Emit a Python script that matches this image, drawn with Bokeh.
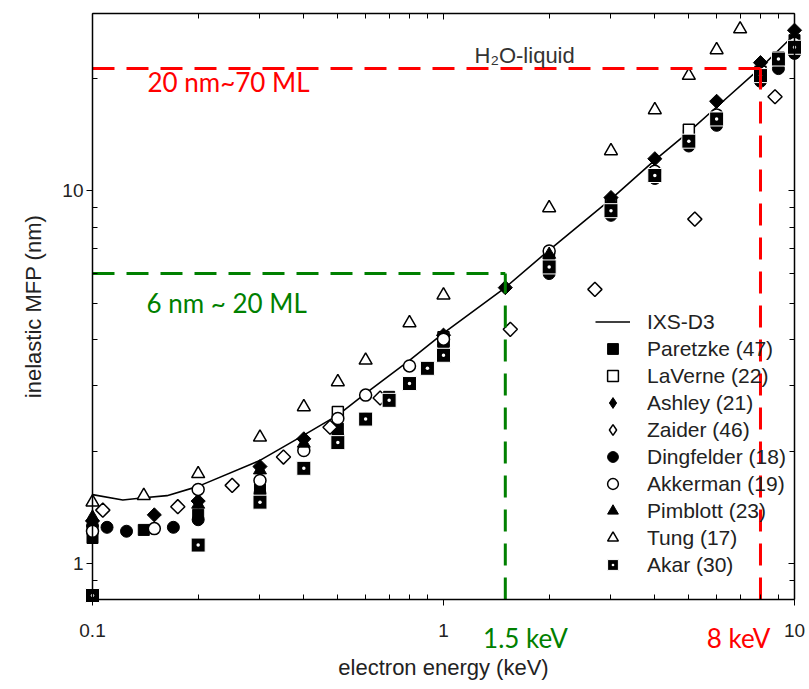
import numpy as np
from bokeh.plotting import figure
from bokeh.models import (Legend, LegendItem, FixedTicker, LogAxis, Label,
                          NumeralTickFormatter)
from bokeh.embed import file_html
from bokeh.resources import INLINE

# ---- IXS-D3 model curve (energy in keV, inelastic MFP in nm) ----
ixs_e = [0.1, 0.122, 0.14, 0.163, 0.2, 0.3, 0.4, 0.5, 0.6, 0.8, 1.0, 1.5, 2.0, 3.0, 4.0, 5.0, 6.0, 8.0, 10.0]
ixs_mfp = [1.53, 1.48, 1.50, 1.52, 1.61, 1.89, 2.21, 2.50, 2.86, 3.51, 4.15, 5.5, 6.94, 9.5, 12.1, 14.4, 16.8, 21.4, 26.3]

# ---- literature data sets ----
paretzke_e = [0.1, 0.14, 0.2, 0.3, 0.5, 0.7, 1.0, 2.0, 5.0, 10.0]
paretzke_mfp = [1.17, 1.23, 1.35, 1.58, 2.30, 2.80, 3.95, 6.6, 14.1, 25.4]

laverne_e = [0.5, 1.0, 3.0, 5.0, 8.0, 9.0]
laverne_mfp = [2.55, 4.05, 9.3, 14.6, 20.9, 22.8]

ashley_e = [0.1, 0.15, 0.2, 0.3, 0.4, 1.0, 1.5, 3.0, 4.0, 6.0, 8.0, 10.0]
ashley_mfp = [1.30, 1.35, 1.47, 1.82, 2.16, 4.1, 5.5, 9.6, 12.2, 17.4, 22.1, 27.0]

zaider_e = [0.107, 0.175, 0.25, 0.35, 0.475, 0.66, 1.55, 2.7, 5.2, 8.8]
zaider_mfp = [1.39, 1.42, 1.62, 1.93, 2.32, 2.78, 4.25, 5.44, 8.4, 17.9]

dingfelder_e = [0.1, 0.11, 0.125, 0.17, 0.2, 0.3, 0.5, 0.6, 0.9, 1.0, 2.0, 3.0, 4.0, 5.0, 6.0, 8.0, 9.0, 10.0]
dingfelder_mfp = [1.26, 1.25, 1.22, 1.25, 1.31, 1.54, 2.20, 2.45, 3.34, 3.85, 6.0, 8.6, 10.8, 13.2, 15.0, 19.7, 21.3, 23.4]

akkerman_e = [0.1, 0.15, 0.2, 0.3, 0.4, 0.5, 0.6, 0.8, 1.0, 2.0, 3.0, 4.0, 5.0, 6.0, 8.0, 10.0]
akkerman_mfp = [1.22, 1.24, 1.58, 1.67, 2.01, 2.45, 2.83, 3.39, 4.0, 6.9, 8.9, 11.3, 13.5, 16.0, 20.5, 24.9]

pimblott_e = [0.1, 0.2, 0.3, 0.4, 2.0, 3.0]
pimblott_mfp = [1.33, 1.44, 1.78, 2.10, 6.75, 9.4]

tung_e = [0.1, 0.14, 0.2, 0.3, 0.4, 0.5, 0.6, 0.8, 1.0, 2.0, 3.0, 4.0, 5.0, 6.0, 7.0]
tung_mfp = [1.46, 1.52, 1.74, 2.18, 2.63, 3.07, 3.51, 4.42, 5.25, 9.0, 12.8, 16.5, 20.4, 23.9, 27.2]

akar_e = [0.1, 0.2, 0.3, 0.4, 0.5, 0.6, 0.7, 0.8, 0.9, 1.0, 2.0, 3.0, 4.0, 5.0, 6.0, 8.0, 9.0, 10.0]
akar_mfp = [0.82, 1.12, 1.46, 1.80, 2.11, 2.44, 2.74, 3.04, 3.34, 3.62, 6.25, 8.85, 11.0, 13.6, 15.6, 20.4, 22.6, 24.3]

# ---- guide lines: photon energy (keV) and the MFP reached there (nm) ----
guide_e = [1.5, 8.0]
guide_mfp = [6.0, 21.3]

# ---- axes ----
x_ticks = [0.1, 1, 10]
x_minor = [0.2, 0.3, 0.4, 0.5, 0.6, 0.7, 0.8, 0.9, 2, 3, 4, 5, 6, 7, 8, 9]
y_ticks = [1, 10]
y_minor = [0.8, 0.9, 2, 3, 4, 5, 6, 7, 8, 9, 20, 30]
X_LO, X_HI = 0.1, 10
Y_LO, Y_HI = 0.8, 30

AXIS_FONT = "Liberation Sans"
NOTE_FONT = "Lato"
INK = "#222222"
GREEN = "#008000"
RED = "#ff0000"

# The frame fills the whole canvas; the plot box sits inside it, so that the
# captions under the axis are drawn next to the tick labels without clipping.
W, H = 809, 689
BOX_L, BOX_R, BOX_T, BOX_B = 92, 794, 12.7, 599
dec_x = (BOX_R - BOX_L) / np.log10(X_HI / X_LO)
dec_y = (BOX_B - BOX_T) / np.log10(Y_HI / Y_LO)
x_view = (X_LO * 10 ** (-BOX_L / dec_x), X_HI * 10 ** ((W - BOX_R) / dec_x))
y_view = (Y_LO * 10 ** (-(H - BOX_B) / dec_y), Y_HI * 10 ** (BOX_T / dec_y))


def at(px, py):
    """Canvas pixel position -> (energy, mfp) for placing text."""
    return X_LO * 10 ** ((px - BOX_L) / dec_x), Y_LO * 10 ** ((BOX_B - py) / dec_y)


p = figure(width=W, height=H, x_axis_type="log", y_axis_type="log",
           x_axis_location=None, y_axis_location=None,
           x_range=x_view, y_range=y_view,
           output_backend="svg", toolbar_location=None, min_border=0)
p.xgrid.visible = False
p.ygrid.visible = False
p.outline_line_alpha = 0
p.background_fill_color = "white"
p.border_fill_color = "white"


def make_axis(ticks, minor, fixed, bounds, show_labels, tick_in, tick_out, minor_in):
    ax = LogAxis(ticker=FixedTicker(ticks=ticks, minor_ticks=minor),
                 formatter=NumeralTickFormatter(format="0.[0]"),
                 fixed_location=fixed, bounds=bounds,
                 axis_line_width=1.5, axis_line_color="black",
                 major_tick_in=tick_in, major_tick_out=tick_out,
                 minor_tick_in=minor_in, minor_tick_out=0,
                 major_tick_line_color="black", minor_tick_line_color="black",
                 major_label_text_font=AXIS_FONT, major_label_text_font_size="19px",
                 major_label_text_color=INK)
    if not show_labels:
        ax.major_label_text_alpha = 0
    return ax


bottom = make_axis(x_ticks, x_minor, Y_LO, (X_LO, X_HI), True, 0, 6, 5)
bottom.major_label_standoff = 18
left = make_axis(y_ticks, y_minor, X_LO, (Y_LO, Y_HI), True, 0, 6, 5)
left.major_label_standoff = 3
top = make_axis(x_ticks, x_minor, Y_HI, (X_LO, X_HI), False, 6, 0, 5)
right = make_axis(y_ticks, y_minor, X_HI, (Y_LO, Y_HI), False, 6, 0, 5)
p.add_layout(bottom, "below")
p.add_layout(left, "left")
p.add_layout(top, "above")
p.add_layout(right, "right")

# ---- model curve ----
r_ixs = p.line(ixs_e, ixs_mfp, line_color="black", line_width=1.6)

# ---- data markers ----
r_par = p.scatter(paretzke_e, paretzke_mfp, marker="square", size=11,
                  fill_color="black", line_color="black")
r_lav = p.scatter(laverne_e, laverne_mfp, marker="square", size=11,
                  fill_color="white", line_color="black", line_width=1.5)
# plain diamonds (hidden under the rotated squares) provide the legend keys
k_ash = p.scatter(ashley_e, ashley_mfp, marker="diamond", size=7,
                  fill_color="black", line_color="black")
k_zai = p.scatter(zaider_e, zaider_mfp, marker="diamond", size=7,
                  fill_color="white", line_color="black", line_width=1.5)
r_ash = p.scatter(ashley_e, ashley_mfp, marker="square", angle=np.pi / 4, size=10,
                  fill_color="black", line_color="black")
r_zai = p.scatter(zaider_e, zaider_mfp, marker="square", angle=np.pi / 4, size=10,
                  fill_color="white", line_color="black", line_width=1.5)
r_din = p.scatter(dingfelder_e, dingfelder_mfp, marker="circle", size=12,
                  fill_color="black", line_color="black")
r_akk = p.scatter(akkerman_e, akkerman_mfp, marker="circle", size=12,
                  fill_color="white", line_color="black", line_width=1.5)
r_pim = p.scatter(pimblott_e, pimblott_mfp, marker="triangle", size=13,
                  fill_color="black", line_color="black")
r_tun = p.scatter(tung_e, tung_mfp, marker="triangle", size=13,
                  fill_color="white", line_color="black", line_width=1.5)
r_aka = p.scatter(akar_e, akar_mfp, marker="square_dot", size=14,
                  fill_color="black", line_color="white", line_width=1)

# ---- guide lines at the two photon energies ----
guide_colors = [GREEN, RED]
for e, mfp, col in zip(guide_e, guide_mfp, guide_colors):
    p.line([X_LO, e], [mfp, mfp], line_color=col, line_width=3, line_dash="22 12")
    p.line([e, e], [Y_LO, mfp], line_color=col, line_width=3, line_dash="22 12")

legend = Legend(items=[
    LegendItem(label="IXS-D3", renderers=[r_ixs]),
    LegendItem(label="Paretzke (47)", renderers=[r_par]),
    LegendItem(label="LaVerne (22)", renderers=[r_lav]),
    LegendItem(label="Ashley (21)", renderers=[k_ash]),
    LegendItem(label="Zaider (46)", renderers=[k_zai]),
    LegendItem(label="Dingfelder (18)", renderers=[r_din]),
    LegendItem(label="Akkerman (19)", renderers=[r_akk]),
    LegendItem(label="Pimblott (23)", renderers=[r_pim]),
    LegendItem(label="Tung (17)", renderers=[r_tun]),
    LegendItem(label="Akar (30)", renderers=[r_aka]),
], location=(595, H - 578), label_text_font=AXIS_FONT, label_text_font_size="21px",
   label_text_color=INK, glyph_width=35, glyph_height=27, label_height=27,
   spacing=0, label_standoff=17, padding=0, margin=0,
   border_line_alpha=0, background_fill_alpha=0)
p.add_layout(legend)

# ---- texts: axis titles, captions and notes ----
notes = [
    # (text, pixel x, pixel y, align, colour, font, size, angle)
    ("electron energy (keV)", 443, 667, "center", INK, AXIS_FONT, "22px", 0),
    ("inelastic MFP (nm)", 33, 306, "center", INK, AXIS_FONT, "22px", np.pi / 2),
    ("H\u2082O-liquid", 474, 55, "left", "#333333", AXIS_FONT, "22px", 0),
    ("20 nm~70 ML", 147, 81, "left", RED, NOTE_FONT, "26px", 0),
    ("6 nm ~ 20 ML", 146, 302, "left", GREEN, NOTE_FONT, "26px", 0),
    ("1.5 keV", 525, 637, "center", GREEN, NOTE_FONT, "26px", 0),
    ("8 keV", 738, 637, "center", RED, NOTE_FONT, "26px", 0),
]
for text, px, py, align, col, font, size, ang in notes:
    x, y = at(px, py)
    p.add_layout(Label(x=x, y=y, text=text, text_color=col, text_font=font,
                       text_font_size=size, text_align=align, text_baseline="middle",
                       angle=ang))

open("out.html", "w").write(file_html(p, INLINE))
